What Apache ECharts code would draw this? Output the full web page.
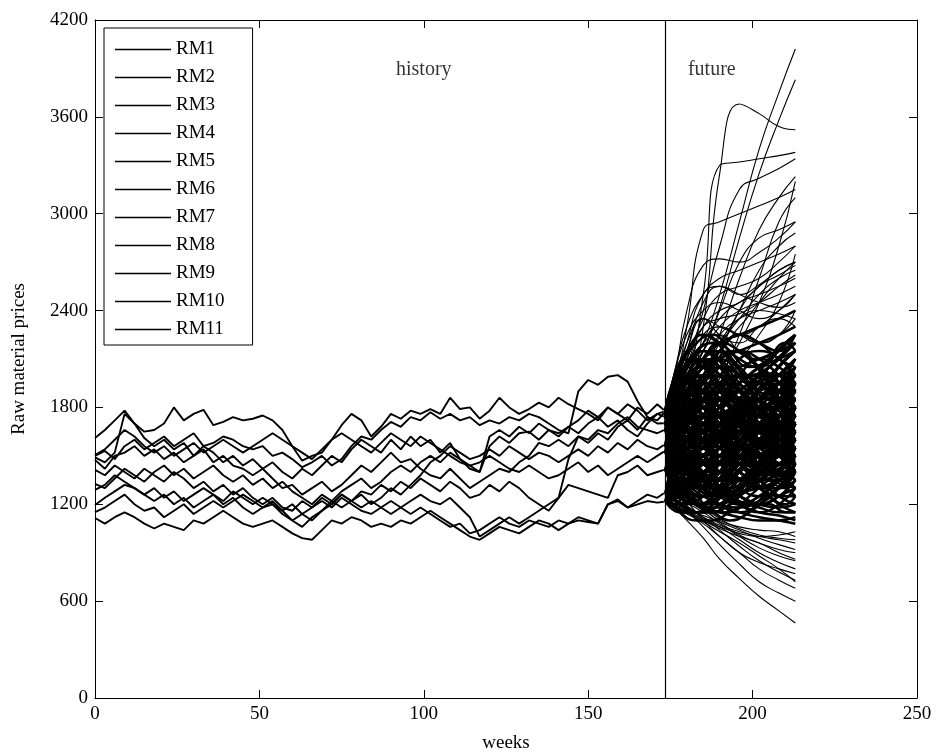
<!DOCTYPE html>
<html><head><meta charset="utf-8">
<script src="https://cdn.jsdelivr.net/npm/echarts@6/dist/echarts.min.js"></script>
<style>html,body{margin:0;padding:0;background:#fff}#chart{width:938px;height:756px}</style>
</head><body><div id="chart"></div>
<script>
// ---------- DATA ----------
const histWeeks = [0,3,6,9,12,15,18,21,24,27,30,33,36,39,42,45,48,51,54,57,60,63,66,69,72,75,78,81,84,87,90,93,96,99,102,105,108,111,114,117,120,123,126,129,132,135,138,141,144,147,150,153,156,159,162,165,168,171,173];
const RM1 = [1610,1660,1720,1780,1700,1650,1660,1700,1800,1720,1760,1785,1690,1710,1740,1720,1730,1750,1720,1660,1560,1470,1500,1520,1600,1690,1760,1720,1620,1680,1760,1730,1780,1760,1790,1760,1860,1790,1800,1730,1780,1860,1800,1760,1790,1830,1800,1860,1820,1790,1760,1720,1800,1760,1720,1800,1760,1820,1784];
const RM2 = [1500,1530,1480,1560,1600,1540,1580,1620,1560,1600,1640,1560,1580,1620,1600,1560,1540,1560,1500,1520,1480,1430,1460,1500,1440,1480,1560,1620,1600,1660,1710,1680,1740,1720,1770,1730,1760,1720,1740,1690,1720,1700,1740,1720,1760,1740,1700,1660,1640,1900,1970,1940,1990,2000,1960,1840,1740,1700,1702];
const RM3 = [1490,1460,1520,1760,1700,1610,1560,1600,1540,1580,1500,1560,1520,1460,1500,1440,1480,1420,1460,1400,1360,1420,1380,1440,1500,1460,1540,1600,1560,1520,1600,1540,1620,1560,1600,1520,1580,1480,1420,1400,1560,1620,1580,1640,1650,1600,1660,1640,1680,1640,1700,1740,1680,1720,1660,1620,1700,1760,1774];
const RM4 = [1475,1420,1500,1520,1560,1500,1540,1480,1520,1460,1500,1540,1460,1500,1440,1420,1380,1420,1360,1300,1320,1260,1300,1340,1280,1320,1380,1440,1400,1460,1520,1460,1480,1420,1380,1360,1420,1360,1300,1340,1380,1420,1400,1460,1500,1580,1560,1600,1560,1620,1580,1640,1600,1680,1720,1660,1740,1720,1764];
const RM5 = [1413,1380,1440,1400,1360,1420,1380,1340,1400,1360,1300,1340,1280,1320,1260,1300,1240,1200,1240,1180,1160,1220,1180,1240,1200,1260,1220,1280,1260,1320,1280,1340,1300,1360,1320,1280,1340,1300,1240,1260,1320,1280,1340,1300,1240,1200,1160,1240,1480,1620,1600,1660,1640,1700,1740,1680,1660,1640,1660];
const RM6 = [1326,1300,1360,1420,1380,1340,1400,1440,1380,1420,1360,1400,1440,1380,1340,1380,1320,1360,1300,1340,1280,1240,1200,1260,1220,1180,1220,1260,1200,1240,1300,1260,1320,1380,1460,1500,1560,1520,1480,1500,1540,1500,1560,1520,1480,1520,1500,1460,1500,1540,1500,1560,1520,1580,1540,1600,1560,1540,1567];
const RM7 = [1289,1320,1380,1340,1300,1260,1300,1240,1280,1220,1260,1300,1260,1220,1280,1240,1200,1240,1200,1160,1200,1140,1100,1160,1220,1280,1320,1360,1300,1340,1400,1440,1400,1460,1500,1460,1520,1480,1440,1460,1500,1460,1420,1400,1440,1400,1360,1380,1420,1460,1400,1440,1380,1420,1460,1500,1460,1500,1526];
const RM8 = [1196,1240,1280,1320,1300,1260,1220,1260,1200,1240,1180,1220,1260,1200,1240,1180,1140,1180,1220,1160,1100,1060,1120,1160,1200,1260,1220,1180,1220,1180,1140,1180,1220,1260,1220,1200,1240,1180,1120,1000,1040,1080,1120,1080,1120,1160,1200,1240,1320,1300,1280,1260,1240,1380,1400,1440,1380,1400,1413];
const RM9 = [1152,1180,1220,1260,1200,1160,1180,1120,1160,1200,1140,1180,1220,1180,1220,1260,1220,1180,1200,1140,1100,1140,1180,1220,1180,1240,1200,1160,1140,1180,1220,1180,1140,1180,1140,1100,1060,1080,1020,1040,1080,1120,1080,1060,1100,1080,1060,1100,1080,1120,1100,1080,1200,1220,1180,1220,1260,1240,1268];
const RM10 = [1115,1080,1120,1150,1120,1080,1050,1080,1060,1040,1100,1080,1120,1160,1120,1080,1060,1080,1100,1060,1020,990,980,1040,1100,1080,1120,1100,1060,1080,1060,1100,1080,1120,1160,1120,1080,1040,1000,980,1020,1060,1040,1020,1060,1100,1080,1040,1080,1100,1090,1080,1200,1230,1180,1200,1220,1210,1216];
const RM11 = [1505,1540,1600,1660,1620,1560,1520,1560,1500,1540,1580,1520,1560,1600,1560,1520,1560,1600,1640,1600,1560,1520,1480,1540,1600,1640,1600,1560,1520,1580,1640,1600,1560,1620,1580,1540,1500,1460,1440,1400,1620,1660,1620,1680,1640,1700,1660,1620,1680,1720,1780,1740,1800,1760,1820,1780,1720,1760,1743];
const seriesNames = ['RM1','RM2','RM3','RM4','RM5','RM6','RM7','RM8','RM9','RM10','RM11'];

const futWeeks = [173.5,176,180,185,190,196,202,208,213];
const futWeeksB = [173.5,178,183,188,193,199,205,210,213];
const futUpper = [
 [1784,1850,2000,2200,2500,2950,3400,3750,4020],
 [1764,1820,1950,2150,2420,2850,3250,3580,3830],
 [1774,1800,1880,2300,3250,3680,3620,3540,3520],
 [1743,1800,1950,2500,3300,3320,3340,3360,3380],
 [1784,1850,2050,2400,2800,3150,3220,3280,3340],
 [1702,1760,1850,2000,2250,2600,2900,3100,3230],
 [1774,1900,2300,2900,2950,3000,3050,3100,3150],
 [1764,1950,2400,2680,2720,2700,2760,2850,2950],
 [1743,1900,2200,2500,2550,2500,2560,2650,2700],
 [1702,1800,1950,2150,2400,2700,2850,2900,2950],
 [1660,1720,1800,1950,2150,2400,2650,2800,2880],
 [1784,1900,2100,2300,2350,2380,2450,2550,2620],
 [1567,1650,1780,1950,2150,2400,2550,2620,2680],
 [1743,1850,2050,2250,2300,2250,2300,2400,2500],
 [1774,1880,2150,2450,2550,2500,2450,2420,2450],
 [1702,1750,1850,2000,2200,2350,2400,2380,2350],
 [1660,1700,1780,1900,2000,2100,2250,2450,2750],
 [1764,1900,2150,2350,2250,2200,2300,2350,2300],
 [1526,1600,1700,1850,2000,2200,2450,2800,3200],
 [1567,1620,1700,1820,1980,2250,2600,2950,3100],
 [1743,1950,2200,2350,2300,2250,2200,2250,2350],
 [1784,2000,2250,2400,2450,2400,2350,2400,2500],
 [1702,1850,2050,2200,2250,2150,2100,2150,2200],
 [1774,1950,2150,2250,2200,2300,2450,2600,2700],
 [1764,1900,2100,2300,2400,2450,2550,2650,2700],
 [1660,1800,2000,2200,2300,2250,2200,2250,2400],
 [1784,1900,2100,2350,2500,2550,2600,2700,2800],
 [1743,1850,2000,2200,2350,2450,2500,2550,2600],
 [1774,2000,2300,2500,2600,2650,2700,2750,2800],
 [1702,1800,1950,2100,2200,2350,2500,2600,2650],
 [1764,1850,2000,2150,2300,2400,2450,2500,2550],
 [1660,1750,1900,2100,2250,2350,2400,2450,2500]
];
const futCoreA = [
 [1784,1700,1550,1400,1350,1420,1550,1650,1700],
 [1774,1850,1950,1900,1750,1600,1500,1450,1480],
 [1764,1650,1500,1450,1550,1700,1850,1950,2000],
 [1743,1800,1900,2050,2100,2000,1850,1750,1700],
 [1702,1600,1450,1300,1250,1300,1400,1500,1550],
 [1660,1750,1850,1800,1650,1500,1400,1380,1420],
 [1567,1500,1400,1350,1400,1550,1700,1800,1850],
 [1526,1600,1700,1850,1950,2000,1950,1850,1800],
 [1413,1350,1280,1250,1300,1400,1500,1550,1600],
 [1268,1320,1400,1500,1600,1650,1600,1500,1400],
 [1216,1250,1300,1380,1450,1500,1450,1350,1300],
 [1784,1880,2000,2100,2050,1900,1750,1650,1600],
 [1774,1700,1600,1550,1600,1750,1900,2050,2150],
 [1764,1820,1880,1800,1650,1500,1450,1500,1600],
 [1743,1680,1600,1500,1400,1350,1380,1450,1500],
 [1702,1780,1900,2000,1950,1800,1700,1700,1750],
 [1660,1600,1550,1600,1700,1850,1950,2000,1950],
 [1567,1620,1700,1650,1550,1450,1400,1450,1550],
 [1526,1450,1350,1300,1350,1450,1600,1700,1750],
 [1413,1480,1550,1650,1750,1800,1750,1650,1550],
 [1268,1230,1200,1250,1350,1450,1550,1600,1650],
 [1216,1280,1350,1450,1500,1450,1350,1250,1200],
 [1784,1720,1650,1700,1800,1900,2000,2100,2200],
 [1774,1850,1900,1850,1750,1650,1600,1650,1750],
 [1764,1700,1600,1500,1450,1500,1600,1750,1850],
 [1743,1780,1850,1950,2050,2150,2100,2000,1900],
 [1702,1650,1600,1550,1500,1450,1500,1600,1700],
 [1660,1700,1780,1850,1850,1750,1650,1550,1500],
 [1567,1520,1450,1400,1450,1550,1650,1700,1650],
 [1526,1580,1650,1700,1650,1550,1450,1400,1400],
 [1413,1380,1350,1400,1500,1600,1700,1750,1700],
 [1268,1300,1350,1300,1250,1200,1250,1350,1450],
 [1216,1200,1220,1300,1400,1500,1600,1650,1600],
 [1784,1800,1750,1650,1550,1500,1550,1650,1800],
 [1774,1900,2000,2050,2000,1900,1850,1900,2000],
 [1764,1750,1700,1750,1850,1950,2000,1950,1850],
 [1743,1650,1550,1450,1400,1450,1500,1550,1500],
 [1702,1720,1800,1900,2000,2050,2100,2150,2200],
 [1660,1580,1500,1450,1500,1600,1650,1600,1500],
 [1567,1650,1750,1800,1750,1650,1600,1650,1700],
 [1526,1500,1500,1550,1650,1750,1850,1900,1950],
 [1413,1450,1500,1450,1400,1350,1300,1300,1350],
 [1268,1350,1450,1550,1600,1550,1500,1450,1450],
 [1216,1240,1280,1320,1300,1250,1200,1180,1200],
 [1784,1750,1800,1900,1950,1900,1800,1700,1650],
 [1774,1720,1650,1600,1650,1700,1650,1550,1450],
 [1764,1850,1950,2000,1900,1750,1650,1600,1650],
 [1743,1700,1650,1650,1700,1800,1900,1950,2050],
 [1702,1660,1650,1700,1800,1850,1800,1700,1600],
 [1660,1650,1650,1700,1750,1700,1600,1500,1450],
 [1567,1560,1550,1600,1700,1800,1900,2000,2100],
 [1526,1550,1600,1550,1450,1350,1300,1350,1400],
 [1413,1420,1450,1500,1550,1650,1800,1900,1950],
 [1268,1280,1300,1350,1400,1350,1300,1250,1250],
 [1216,1230,1260,1250,1200,1180,1220,1300,1400],
 [1784,1820,1850,1800,1700,1600,1550,1550,1600],
 [1774,1760,1800,1850,1800,1700,1600,1500,1400],
 [1702,1740,1800,1750,1650,1550,1500,1550,1650],
 [1567,1600,1650,1750,1850,1950,2050,2100,2150],
 [1413,1400,1380,1350,1300,1280,1300,1350,1400],
 [1526,1480,1420,1350,1280,1220,1180,1150,1150],
 [1268,1250,1220,1180,1150,1120,1100,1100,1120],
 [1413,1380,1320,1250,1200,1150,1120,1100,1080],
 [1660,1600,1500,1380,1280,1200,1150,1130,1100],
 [1743,1800,1900,2000,2100,2150,2200,2250,2300],
 [1784,1850,1950,2050,2150,2250,2200,2150,2200],
 [1702,1800,1950,2100,2200,2250,2300,2350,2400],
 [1567,1500,1400,1300,1250,1200,1200,1250,1300]
];
const futCoreB = [
 [1784,1950,2050,1950,1800,1700,1750,1900,2050],
 [1784,1650,1500,1450,1550,1700,1800,1750,1650],
 [1784,1880,1800,1650,1600,1700,1900,2050,2150],
 [1784,1700,1750,1900,2000,1900,1700,1550,1500],
 [1784,1820,1950,2100,2150,2050,1950,2000,2100],
 [1784,1600,1450,1350,1400,1550,1650,1600,1550],
 [1784,1900,1850,1750,1650,1550,1500,1600,1750],
 [1784,1750,1650,1700,1850,2000,2100,2050,1950],
 [1784,1980,2150,2250,2200,2100,2050,2150,2250],
 [1784,1680,1600,1650,1750,1800,1700,1600,1600],
 [1774,1900,1800,1650,1550,1600,1750,1850,1800],
 [1774,1620,1550,1650,1800,1900,1850,1700,1600],
 [1774,1850,2000,2100,2000,1850,1800,1900,2000],
 [1774,1700,1600,1500,1450,1500,1650,1800,1900],
 [1774,1950,2100,2050,1900,1800,1850,1950,2100],
 [1774,1560,1450,1500,1600,1750,1850,1900,1850],
 [1774,1800,1700,1600,1650,1800,1950,2000,1900],
 [1774,1680,1750,1850,1900,1800,1650,1550,1500],
 [1774,1850,1900,2000,2150,2250,2200,2100,2050],
 [1764,1600,1500,1550,1650,1600,1500,1450,1500],
 [1764,1900,2000,1900,1750,1650,1700,1800,1950],
 [1764,1700,1800,1950,2050,2000,1900,1800,1750],
 [1764,1850,1750,1600,1500,1450,1550,1700,1800],
 [1764,1650,1700,1800,1750,1650,1600,1700,1850],
 [1764,1950,2050,2150,2100,1950,1850,1800,1850],
 [1764,1580,1400,1350,1450,1600,1700,1750,1700],
 [1764,1800,1900,1850,1950,2100,2150,2100,2000],
 [1764,1720,1620,1600,1700,1850,1950,1900,1800],
 [1743,1850,1950,1850,1700,1600,1650,1800,1900],
 [1743,1600,1500,1400,1450,1550,1650,1700,1650],
 [1743,1780,1700,1750,1900,2000,1950,1850,1750],
 [1743,1650,1750,1850,1800,1700,1600,1550,1600],
 [1743,1900,2050,2150,2050,1900,1800,1850,1950],
 [1743,1550,1450,1500,1650,1750,1700,1600,1550],
 [1743,1700,1600,1550,1600,1700,1850,2000,2100],
 [1743,1820,1800,1700,1600,1550,1600,1650,1700],
 [1743,1750,1850,2000,2100,2150,2050,1950,1900],
 [1702,1800,1900,1800,1650,1550,1600,1750,1850],
 [1702,1550,1450,1400,1500,1650,1750,1700,1600],
 [1702,1750,1650,1550,1500,1600,1750,1850,1900],
 [1702,1650,1750,1900,1950,1850,1700,1600,1550],
 [1702,1900,2000,2050,1950,1800,1750,1800,1900],
 [1702,1500,1400,1350,1350,1450,1550,1600,1650],
 [1702,1800,1750,1650,1700,1850,1950,1900,1800],
 [1702,1600,1550,1650,1750,1700,1600,1500,1450],
 [1702,1850,1950,2100,2200,2150,2050,2000,2050],
 [1660,1750,1850,1750,1600,1500,1550,1700,1800],
 [1660,1500,1400,1350,1400,1500,1600,1650,1600],
 [1660,1700,1600,1500,1550,1700,1850,1950,1900],
 [1660,1600,1700,1800,1850,1750,1600,1500,1450],
 [1660,1850,1950,1900,1800,1700,1700,1800,1950],
 [1660,1550,1500,1550,1650,1600,1500,1400,1400],
 [1660,1800,1750,1650,1550,1450,1450,1550,1700],
 [1660,1650,1550,1450,1400,1450,1600,1750,1850],
 [1660,1700,1800,1950,2050,2000,1900,1800,1700],
 [1567,1700,1800,1750,1650,1550,1500,1550,1650],
 [1567,1450,1350,1300,1350,1450,1550,1600,1550],
 [1567,1650,1550,1450,1450,1550,1700,1800,1850],
 [1567,1500,1600,1700,1750,1700,1600,1500,1450],
 [1567,1750,1850,1900,1850,1750,1650,1650,1750],
 [1567,1400,1300,1250,1300,1400,1500,1550,1500],
 [1567,1600,1700,1650,1550,1450,1400,1450,1550],
 [1567,1520,1450,1500,1600,1750,1850,1850,1800],
 [1567,1680,1650,1550,1500,1500,1550,1650,1700],
 [1526,1650,1750,1700,1600,1500,1450,1500,1600],
 [1526,1400,1300,1250,1300,1400,1500,1550,1500],
 [1526,1600,1500,1400,1400,1500,1650,1750,1800],
 [1526,1450,1550,1650,1700,1650,1550,1450,1400],
 [1526,1700,1800,1850,1800,1700,1600,1600,1700],
 [1526,1380,1280,1250,1300,1350,1400,1450,1400],
 [1526,1550,1650,1600,1500,1400,1350,1400,1500],
 [1526,1480,1400,1450,1550,1650,1750,1800,1750],
 [1413,1550,1650,1600,1500,1400,1350,1400,1500],
 [1413,1320,1250,1200,1250,1350,1450,1500,1450],
 [1413,1500,1400,1300,1300,1400,1550,1650,1700],
 [1413,1380,1450,1550,1600,1550,1450,1350,1300],
 [1413,1600,1700,1750,1700,1600,1500,1500,1600],
 [1413,1300,1220,1200,1250,1300,1350,1400,1350],
 [1413,1450,1550,1500,1400,1300,1250,1300,1400],
 [1413,1350,1300,1350,1450,1550,1650,1700,1650],
 [1268,1400,1500,1450,1350,1250,1200,1250,1350],
 [1268,1200,1150,1150,1200,1300,1400,1450,1400],
 [1268,1350,1300,1200,1200,1300,1450,1550,1600],
 [1268,1250,1350,1450,1500,1450,1350,1250,1200],
 [1268,1450,1550,1600,1550,1450,1350,1350,1450],
 [1268,1300,1400,1350,1250,1200,1250,1350,1500],
 [1216,1350,1450,1400,1300,1200,1150,1200,1300],
 [1216,1180,1150,1150,1200,1250,1350,1400,1350],
 [1216,1300,1250,1180,1180,1250,1400,1500,1550],
 [1216,1200,1300,1400,1450,1400,1300,1200,1150],
 [1216,1400,1500,1550,1500,1400,1300,1300,1400],
 [1216,1250,1350,1300,1200,1150,1200,1300,1450]
];
const futCoreC = [
 [1784,1950,2100,2000,1850,1900,2050,2150,2200],
 [1774,1600,1450,1550,1700,1650,1500,1450,1500],
 [1764,1850,1700,1600,1700,1850,1950,1850,1800],
 [1743,1950,2050,2150,2100,1950,1850,1950,2050],
 [1702,1500,1350,1300,1400,1550,1600,1500,1450],
 [1660,1800,1900,1800,1650,1550,1650,1800,1900],
 [1567,1400,1300,1350,1500,1650,1700,1600,1550],
 [1526,1700,1850,1950,1900,1750,1650,1700,1800],
 [1413,1300,1200,1250,1400,1500,1450,1350,1300],
 [1268,1400,1550,1650,1700,1600,1450,1400,1450],
 [1216,1300,1400,1350,1250,1200,1300,1450,1550],
 [1784,1700,1600,1700,1850,1950,2000,1900,1850],
 [1774,1900,2000,1900,1800,1700,1750,1900,2000],
 [1764,1600,1500,1450,1550,1700,1800,1750,1700],
 [1743,1650,1700,1850,1950,1900,1750,1650,1600],
 [1702,1850,2000,2100,2050,1950,2000,2100,2150],
 [1660,1550,1450,1500,1650,1750,1700,1600,1550],
 [1567,1750,1850,1800,1700,1600,1550,1650,1750],
 [1526,1400,1300,1250,1350,1450,1550,1650,1700],
 [1413,1550,1700,1750,1650,1500,1400,1450,1550],
 [1268,1200,1150,1200,1300,1400,1500,1500,1450],
 [1216,1350,1500,1600,1550,1450,1350,1300,1350],
 [1784,1850,1800,1650,1550,1600,1750,1900,1950],
 [1774,1650,1550,1600,1750,1850,1800,1650,1600],
 [1764,2000,2150,2200,2100,2000,2050,2150,2250],
 [1743,1550,1400,1350,1450,1600,1700,1650,1600],
 [1702,1700,1800,1900,1850,1700,1600,1550,1600],
 [1660,1900,2050,2100,2000,1850,1800,1850,1950],
 [1567,1500,1550,1650,1750,1800,1700,1550,1450],
 [1526,1600,1600,1500,1400,1350,1450,1600,1700],
 [1413,1450,1350,1250,1250,1350,1500,1600,1650],
 [1268,1300,1250,1150,1150,1250,1350,1400,1400],
 [1216,1150,1150,1250,1350,1350,1250,1200,1250],
 [1784,1750,1900,2050,2150,2100,1950,1850,1850],
 [1774,1800,1650,1500,1450,1550,1650,1700,1750],
 [1764,1700,1650,1750,1900,2000,2100,2200,2250],
 [1743,1800,1950,1950,1800,1650,1550,1600,1700],
 [1702,1600,1500,1550,1650,1800,1900,1950,1950],
 [1660,1650,1750,1700,1550,1450,1400,1450,1500],
 [1567,1550,1400,1300,1300,1400,1550,1700,1800],
 [1526,1800,1950,2000,1950,1850,1750,1700,1750],
 [1413,1250,1150,1150,1250,1350,1400,1350,1300],
 [1268,1500,1650,1700,1650,1550,1500,1550,1650],
 [1216,1250,1200,1150,1100,1150,1250,1350,1400],
 [1784,2050,2200,2250,2150,2050,2100,2200,2250],
 [1764,1550,1400,1300,1250,1300,1400,1450,1400],
 [1702,1950,2100,2000,1900,1950,2100,2200,2150],
 [1567,1350,1200,1150,1200,1300,1350,1300,1250],
 [1413,1650,1800,1850,1800,1700,1650,1700,1800],
 [1268,1150,1100,1100,1150,1200,1200,1150,1150]
];
const futLower = [
 [1216,1180,1100,990,860,740,630,540,465],
 [1268,1230,1160,1060,950,830,720,650,600],
 [1216,1200,1150,1080,1000,900,800,730,680],
 [1268,1240,1190,1120,1040,940,850,780,730],
 [1413,1330,1220,1100,1000,900,840,800,770],
 [1216,1190,1160,1110,1060,980,900,840,800],
 [1268,1250,1210,1150,1080,1000,930,880,850],
 [1413,1360,1280,1180,1090,1010,960,920,900],
 [1216,1200,1170,1130,1090,1040,990,950,920],
 [1268,1230,1180,1120,1070,1030,1000,980,960],
 [1526,1420,1300,1190,1110,1050,1010,990,980],
 [1216,1190,1150,1100,1060,1020,1000,1010,1030],
 [1413,1350,1260,1170,1100,1060,1040,1030,1000],
 [1268,1220,1160,1100,1050,1000,960,900,860],
 [1216,1180,1140,1090,1030,960,880,800,720]
];
const splitWeek = 173.5;
const annotations = [['history', 100, 3890], ['future', 187.6, 3890]];
const xRange = [0, 250, 50];
const yRange = [0, 4200, 600];

// ---------- CHART ----------
const FONT = "'Liberation Serif','Times New Roman',serif";
const chart = echarts.init(document.getElementById('chart'), null, {renderer: 'canvas'});
const hist = [RM1,RM2,RM3,RM4,RM5,RM6,RM7,RM8,RM9,RM10,RM11];
const series = [];
hist.forEach((vals, i) => {
  const s = {
    name: seriesNames[i], type: 'line', symbol: 'none', showSymbol: false,
    data: histWeeks.map((w, j) => [w, vals[j]]),
    lineStyle: {color: '#000', width: 1.9}, itemStyle: {color: '#000'},
    z: 4, silent: true, animation: false
  };
  if (i === 0) {
    s.markLine = {silent: true, symbol: ['none','none'], label: {show: false},
      lineStyle: {color: '#000', width: 1.2, type: 'solid'}, data: [{xAxis: splitWeek}], animation: false};
  }
  series.push(s);
});
function addFuture(list, weeks, width) {
  list.forEach(p => {
    series.push({
      name: 'sim', type: 'line', symbol: 'none', showSymbol: false, smooth: 0.5,
      data: weeks.map((w, j) => [w, p[j]]),
      lineStyle: {color: '#000', width: width}, z: 3, silent: true, animation: false
    });
  });
}
addFuture(futUpper, futWeeks, 1.1);
addFuture(futCoreA, futWeeks, 2.5);
addFuture(futCoreB, futWeeks, 2.5);
addFuture(futCoreC, futWeeksB, 2.5);
addFuture(futLower, futWeeks, 1.1);
series.push({
  name: 'labels', type: 'scatter', symbolSize: 0, silent: true, animation: false,
  data: annotations.map(a => ({value: [a[1], a[2]], name: a[0]})),
  label: {show: true, position: 'inside', formatter: p => p.name, color: '#000', fontFamily: FONT, fontSize: 20}
});

const axisCommon = {
  type: 'value', axisLine: {show: true, onZero: false, lineStyle: {color: '#000', width: 1}},
  axisTick: {show: true, inside: true, length: 8, lineStyle: {color: '#000', width: 1}},
  splitLine: {show: false}
};
chart.setOption({
  animation: false,
  backgroundColor: '#fff',
  grid: {left: 95, right: 21, top: 20, bottom: 58, containLabel: false, outerBoundsMode: 'none'},
  legend: {
    data: seriesNames, orient: 'vertical', left: 104, top: 28,
    padding: [12, 28, 6, 11], itemGap: 9, itemWidth: 56, itemHeight: 1.5, icon: 'rect',
    borderColor: '#000', borderWidth: 1, backgroundColor: '#fff', borderRadius: 0,
    selectedMode: false,
    textStyle: {color: '#000', fontFamily: FONT, fontSize: 19}
  },
  xAxis: [
    Object.assign({}, axisCommon, {min: xRange[0], max: xRange[1], interval: xRange[2], position: 'bottom',
      axisLabel: {color: '#000', fontFamily: FONT, fontSize: 19, margin: 7, formatter: v => String(v)},
      name: 'weeks', nameLocation: 'middle', nameGap: 36,
      nameTextStyle: {color: '#000', fontFamily: FONT, fontSize: 19}}),
    Object.assign({}, axisCommon, {min: xRange[0], max: xRange[1], interval: xRange[2], position: 'top',
      axisLabel: {show: false}})
  ],
  yAxis: [
    Object.assign({}, axisCommon, {min: yRange[0], max: yRange[1], interval: yRange[2], position: 'left',
      axisLabel: {color: '#000', fontFamily: FONT, fontSize: 19, margin: 7, formatter: v => String(v)},
      name: 'Raw material prices', nameLocation: 'middle', nameGap: 66,
      nameTextStyle: {color: '#000', fontFamily: FONT, fontSize: 19}}),
    Object.assign({}, axisCommon, {min: yRange[0], max: yRange[1], interval: yRange[2], position: 'right',
      axisLabel: {show: false}})
  ],
  series: series
});
</script></body></html>
